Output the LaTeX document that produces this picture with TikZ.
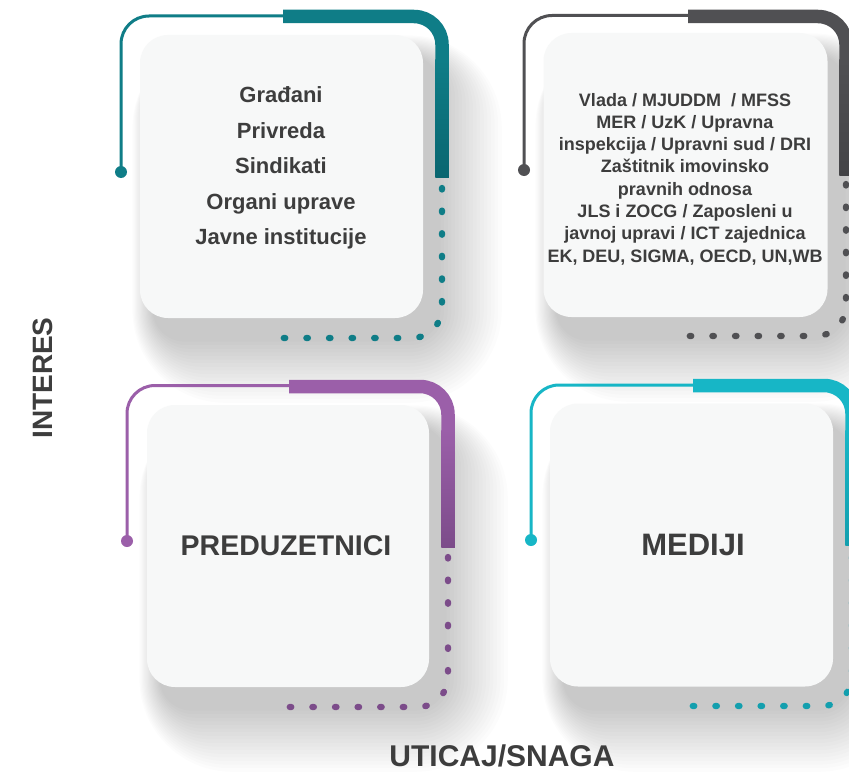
\documentclass[tikz,border=0pt]{standalone}
\usepackage{fontspec}
\setmainfont{Liberation Sans}
\definecolor{cteal}{HTML}{0F7D87}
\definecolor{ctealdk}{HTML}{0A6670}
\definecolor{cgray}{HTML}{505053}
\definecolor{cgraydk}{HTML}{444447}
\definecolor{cpurple}{HTML}{9B5FA9}
\definecolor{cpurpledk}{HTML}{7C4C8A}
\definecolor{ccyan}{HTML}{17B6C6}
\definecolor{ccyandk}{HTML}{139FAE}
\definecolor{cbox}{HTML}{F7F8F8}
\definecolor{ctext}{HTML}{3D3D3D}
\newcommand\mysoftshadow[4]{%
  \foreach \i in {1,...,18}{%
    \pgfmathsetmacro\d{\i*3.6}%
    \pgfmathsetmacro\e{\i*1.2}%
    \pgfmathsetmacro\rr{28+\d}%
    \fill[black,opacity=0.012,rounded corners=\rr bp]
      ({#1+14-\e},{#2+22-\e}) rectangle ({#3+14+\d},{#4+20+\d});
  }}
\tikzset{
  thinline/.style={line width=3bp, rounded corners=28bp},
  thickline/.style={line width=13.5bp, rounded corners=28bp},
  dotline/.style={line width=6.3bp, line cap=round, rounded corners=30bp,
                  dash pattern=on 1.5bp off 21.1bp},
  boxnode/.style={fill=cbox, rounded corners=28bp, minimum width=#1, minimum height=#1, inner sep=0pt},
  listtext/.style={text=ctext, font=\bfseries, align=center, inner sep=0pt},
}
\begin{document}
\begin{tikzpicture}[x=1bp,y=-1bp]
\useasboundingbox (0,0) rectangle (849,773);
\clip (0,0) rectangle (849,773);
\fill[white] (0,0) rectangle (849,773);

% shadows
\mysoftshadow{140}{35}{423}{318}
\mysoftshadow{543}{33}{828}{317}
\mysoftshadow{147}{405}{429}{687}
\mysoftshadow{550}{403}{833}{687}

% boxes
\node[boxnode=283bp] (b1) at (281.5,176.5) {};
\node[boxnode=284bp] (b2) at (685.5,175) {};
\node[boxnode=282bp] (b3) at (288,546) {};
\node[boxnode=283bp] (b4) at (691.5,545) {};

% panel 1 (teal)
\draw[thinline, cteal] (121,172) -- (121,16) -- (287,16);
\draw[thickline, cteal] (283,16.5) -- (442,16.5) -- (442,177);
\shade[top color=cteal, bottom color=ctealdk] (435.25,60) rectangle (448.75,177);
\fill[cteal] (121,172) circle (6bp);
\draw[dotline, cteal] (442,188) -- (442,338) -- (278,338);

% panel 2 (gray)
\draw[thinline, cgray] (524,170) -- (524,15.5) -- (692,15.5);
\draw[thickline, cgray] (688,16.5) -- (846,16.5) -- (846,175);
\shade[top color=cgray, bottom color=cgraydk] (839.25,60) rectangle (852.75,175);
\fill[cgray] (524,170) circle (6bp);
\draw[dotline, cgray] (846,184) -- (846,336) -- (678,336);

% panel 3 (purple)
\draw[thinline, cpurple] (127,541) -- (127,385.5) -- (293,385.5);
\draw[thickline, cpurple] (289,386.5) -- (448,386.5) -- (448,547);
\shade[top color=cpurple, bottom color=cpurpledk] (441.25,430) rectangle (454.75,547);
\fill[cpurple] (127,541) circle (6bp);
\draw[dotline, cpurpledk] (448,557) -- (448,707) -- (283,707);

% panel 4 (cyan)
\draw[thinline, ccyan] (531,540) -- (531,385) -- (697,385);
\draw[thickline, ccyan] (693,385.5) -- (852,385.5) -- (852,545);
\shade[top color=ccyan, bottom color=ccyandk] (845.25,430) rectangle (858.75,545);
\fill[ccyan] (531,540) circle (6bp);
\draw[dotline, ccyandk] (852,557) -- (852,706) -- (686,706);

% texts
\node[listtext, font=\bfseries\fontsize{22bp}{35.4bp}\selectfont] (t1) at (281,168)
  {Građani\\Privreda\\Sindikati\\Organi uprave\\Javne institucije};
\node[listtext, font=\bfseries\fontsize{18bp}{22.3bp}\selectfont] (t2) at (685,179)
  {Vlada / MJUDDM\ \ / MFSS\\MER / UzK / Upravna\\inspekcija / Upravni sud / DRI\\Zaštitnik imovinsko\\pravnih odnosa\\JLS i ZOCG / Zaposleni u\\javnoj upravi / ICT zajednica\\EK, DEU, SIGMA, OECD, UN,WB};
\node[listtext, font=\bfseries\fontsize{28.5bp}{30bp}\selectfont] (t3) at (286,545.5) {PREDUZETNICI};
\node[listtext, font=\bfseries\fontsize{31bp}{33bp}\selectfont] (t4) at (693,545) {MEDIJI};

% axis labels
\node[listtext, font=\bfseries\fontsize{28bp}{30bp}\selectfont, rotate=90] (ly) at (43,378) {INTERES};
\node[listtext, font=\bfseries\fontsize{30bp}{32bp}\selectfont] (lx) at (502,756) {UTICAJ/SNAGA};
\end{tikzpicture}
\end{document}
